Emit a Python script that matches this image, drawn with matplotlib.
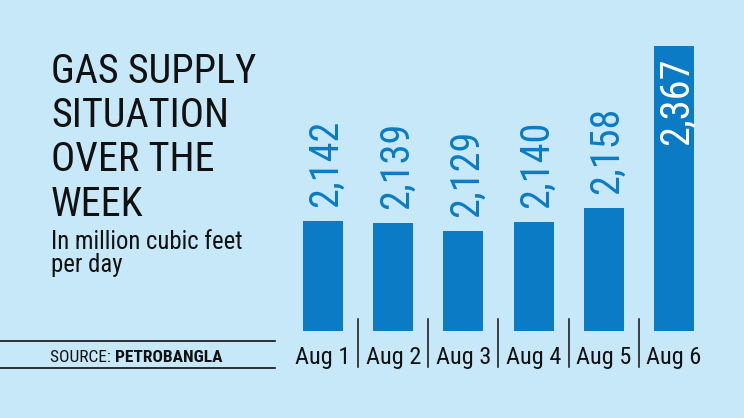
import numpy as np
import matplotlib
matplotlib.use("Agg")
import matplotlib.pyplot as plt
import matplotlib.transforms as mtransforms
from matplotlib import font_manager as fm
from matplotlib.lines import Line2D

# data
days = ["Aug 1", "Aug 2", "Aug 3", "Aug 4", "Aug 5", "Aug 6"]
supply = [2142, 2139, 2129, 2140, 2158, 2367]
title_lines = ["GAS SUPPLY", "SITUATION", "OVER THE", "WEEK"]
subtitle_lines = ["In million cubic feet", "per day"]
source_label = "SOURCE: "
source_name = "PETROBANGLA"

BG = "#C6E8F8"
BAR = "#0A7BC4"
INK = "#111111"


def pick_font(names):
    for n in names:
        try:
            fm.findfont(fm.FontProperties(family=n), fallback_to_default=False)
            return n
        except ValueError:
            continue
    return "DejaVu Sans"


FONT = pick_font(["Liberation Sans Narrow", "Roboto Condensed",
                  "Open Sans Condensed", "Roboto"])
plt.rcParams["font.family"] = [FONT, "DejaVu Sans"]

W, H = 744, 418
fig = plt.figure(figsize=(W / 100, H / 100), dpi=100, facecolor=BG)


def fx(px):
    return px / W


def fy(py):
    return 1 - py / H


# plot area in pixels (left, bottom, right, top)
L, B, R, T = 288, 331, 709, 20
ax = fig.add_axes([fx(L), fy(B), fx(R) - fx(L), fy(T) - fy(B)])
ax.patch.set_visible(False)
for s in ax.spines.values():
    s.set_visible(False)
ax.set_xticks([])
ax.set_yticks([])

x = np.arange(len(days))
ax.bar(x, supply, width=0.57, color=BAR)
ax.set_xlim(-0.5, len(days) - 0.5)
ax.set_ylim(2000, 2400.5)

top = max(supply)
for i, v in enumerate(supply):
    lab = f"{v:,}"
    if v == top:
        ax.annotate(lab, xy=(i, v), xytext=(2, -8), textcoords="offset points",
                    rotation=90, rotation_mode="anchor", ha="right", va="center",
                    color="white", fontsize=29)
    else:
        ax.annotate(lab, xy=(i, v), xytext=(2, 10), textcoords="offset points",
                    rotation=90, rotation_mode="anchor", ha="left", va="center",
                    color=BAR, fontsize=29)

# separators and day labels under the bars
trans = mtransforms.blended_transform_factory(ax.transData, ax.transAxes)
hgt = B - T
for s in x[:-1] + 0.5:
    ax.plot([s, s], [(B - 319) / hgt, (B - 367) / hgt], transform=trans,
            clip_on=False, lw=1.1, color=INK)
for i, d in enumerate(days):
    ax.text(i, (B - 364) / hgt, d, transform=trans, ha="center", va="baseline",
            fontsize=17.5, color=INK)

# title block
for k, line in enumerate(title_lines):
    fig.text(fx(51), fy(82.7 + 44.3 * k), line, fontsize=29, color=INK,
             ha="left", va="baseline")
for k, line in enumerate(subtitle_lines):
    fig.text(fx(51), fy(249 + 23 * k), line, fontsize=17.8, color=INK,
             ha="left", va="baseline")

# source box
fig.add_artist(Line2D([0, fx(275)], [fy(340.7), fy(340.7)], lw=1.2, color=INK))
fig.add_artist(Line2D([0, fx(275)], [fy(368), fy(368)], lw=1.2, color=INK))
t1 = fig.text(fx(50), fy(362), source_label, fontsize=12.5, color=INK,
              ha="left", va="baseline")
ax.annotate(source_name, xy=(1, 0), xycoords=t1, ha="left", va="bottom",
            fontsize=12.5, fontweight="bold", color=INK, annotation_clip=False)

fig.savefig("out.png", dpi=100, facecolor=BG)
